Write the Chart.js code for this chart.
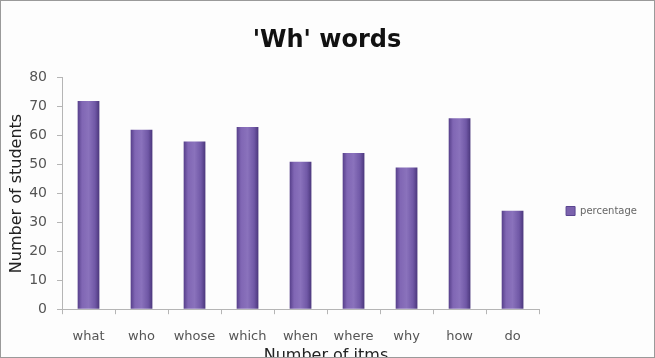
<!DOCTYPE html>
<html lang="en">
<head>
  <meta charset="UTF-8">
  <title>'Wh' words</title>
  <script src="https://cdn.jsdelivr.net/npm/chart.js"></script>
  <style>
    html, body { margin: 0; padding: 0; background: #fff; }
    .wrap {
      width: 653px;
      height: 356px;
      border: 1px solid #9a9a9a;
      background: #fdfdfd;
    }
  </style>
</head>
<body>
  <div class="wrap">
    <canvas id="whChart" width="653" height="356"></canvas>
  </div>
  <script>
    // values
    const categories = ['what', 'who', 'whose', 'which', 'when', 'where', 'why', 'how', 'do'];
    const percentage = [72, 62, 58, 63, 51, 54, 49, 66, 34];
    const yTicks = [0, 10, 20, 30, 40, 50, 60, 70, 80];

    const BAR_PCT = 0.82, CAT_PCT = 0.5;

    // horizontal gradient per bar, to look a bit like the rounded 3D columns
    function barFill(ctx) {
      const chart = ctx.chart;
      const xs = chart.scales && chart.scales.x;
      if (!xs || !chart.chartArea || ctx.dataIndex === undefined) return '#7b62ad';
      const cx = xs.getPixelForValue(ctx.dataIndex);
      const w = (chart.chartArea.width / categories.length) * CAT_PCT * BAR_PCT;
      const g = chart.ctx.createLinearGradient(cx - w / 2, 0, cx + w / 2, 0);
      g.addColorStop(0, '#563f8a');
      g.addColorStop(0.2, '#8066b4');
      g.addColorStop(0.5, '#8a72bc');
      g.addColorStop(0.8, '#7058a6');
      g.addColorStop(1, '#4b377c');
      return g;
    }

    new Chart(document.getElementById('whChart').getContext('2d'), {
      type: 'bar',
      data: {
        labels: categories,
        datasets: [{
          label: 'percentage',
          data: percentage,
          backgroundColor: barFill,
          borderWidth: 0,
          barPercentage: BAR_PCT,
          categoryPercentage: CAT_PCT
        }]
      },
      options: {
        responsive: false,
        animation: false,
        layout: { padding: { left: 6, right: 7, top: 6, bottom: -8 } },
        plugins: {
          title: {
            display: true,
            text: "'Wh' words",
            color: '#111',
            font: { family: 'DejaVu Sans', size: 24, weight: 'bold' },
            padding: { top: 19, bottom: 23 }
          },
          legend: {
            position: 'right',
            // empty legend title only pushes the single item down a bit
            title: { display: true, text: ' ', font: { size: 10 }, padding: { top: 0, bottom: 38 } },
            labels: {
              color: '#333',
              boxWidth: 9,
              boxHeight: 9,
              padding: 27,
              font: { family: 'DejaVu Sans', size: 10 },
              generateLabels: () => [{
                text: 'percentage',
                fillStyle: '#7b62ad',
                strokeStyle: '#5a4590',
                lineWidth: 1,
                datasetIndex: 0
              }]
            }
          },
          tooltip: { enabled: false }
        },
        scales: {
          x: {
            grid: { display: true, drawOnChartArea: false, color: '#b5b5b5', tickLength: 5, offset: true },
            border: { color: '#b5b5b5' },
            ticks: { color: '#555', font: { family: 'DejaVu Sans', size: 13 }, padding: 15 },
            title: {
              display: true,
              // leading spaces: the original title sits a little right of centre
              text: '          Number of itms',
              color: '#222',
              font: { family: 'DejaVu Sans', size: 16 },
              padding: { top: -14, bottom: 0 }
            }
          },
          y: {
            min: 0,
            max: 80,
            afterBuildTicks: axis => { axis.ticks = yTicks.map(v => ({ value: v })); },
            grid: { display: true, drawOnChartArea: false, color: '#b5b5b5', tickLength: 5 },
            border: { color: '#b5b5b5' },
            ticks: { color: '#555', font: { family: 'DejaVu Sans', size: 14 }, padding: 10 },
            title: {
              display: true,
              text: 'Number of students',
              color: '#222',
              font: { family: 'DejaVu Sans', size: 16 },
              padding: { top: 0, bottom: -7 }
            }
          }
        }
      }
    });
  </script>
</body>
</html>
